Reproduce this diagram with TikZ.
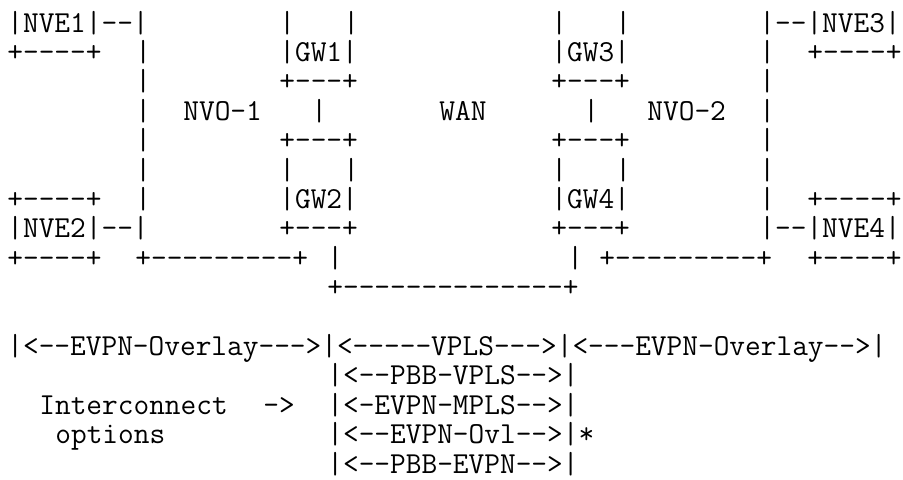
\documentclass[tikz,border=0pt]{standalone}
\usepackage{fontspec}
\usepackage{tikz}

\tikzset{
  ascii/.style={font=\ttfamily\fontsize{15.24pt}{14.7pt}\selectfont, inner sep=0pt, anchor=base west},
}

\begin{document}
\begin{tikzpicture}[x=8pt,y=-14.7pt]
\useasboundingbox (-3.5pt,16pt) rectangle (448pt,-223.5pt);

% row 0
\node[ascii] (nve1) at (0,0) {|NVE1|--|};
\node[ascii] (gwa0) at (17,0) {|};
\node[ascii] (gwb0) at (21,0) {|};
\node[ascii] (gwc0) at (34,0) {|};
\node[ascii] (gwd0) at (38,0) {|};
\node[ascii] (nve3) at (47,0) {|--|NVE3|};
% row 1
\node[ascii] (nve1b) at (0,1) {+----+};
\node[ascii] (nvoa1) at (8,1) {|};
\node[ascii] (gw1) at (17,1) {|GW1|};
\node[ascii] (gw3) at (34,1) {|GW3|};
\node[ascii] (nvob1) at (47,1) {|};
\node[ascii] (nve3b) at (50,1) {+----+};
% row 2
\node[ascii] (nvoa2) at (8,2) {|};
\node[ascii] (gw1b) at (17,2) {+---+};
\node[ascii] (gw3b) at (34,2) {+---+};
\node[ascii] (nvob2) at (47,2) {|};
% row 3
\node[ascii] (nvoa3) at (8,3) {|};
\node[ascii] (nvo1) at (11,3) {NVO-1};
\node[ascii] (link12) at (19,3) {|};
\node[ascii] (wan) at (27,3) {WAN};
\node[ascii] (link34) at (36,3) {|};
\node[ascii] (nvo2) at (40,3) {NVO-2};
\node[ascii] (nvob3) at (47,3) {|};
% row 4
\node[ascii] (nvoa4) at (8,4) {|};
\node[ascii] (gw2t) at (17,4) {+---+};
\node[ascii] (gw4t) at (34,4) {+---+};
\node[ascii] (nvob4) at (47,4) {|};
% row 5
\node[ascii] (nvoa5) at (8,5) {|};
\node[ascii] (gwa5) at (17,5) {|};
\node[ascii] (gwb5) at (21,5) {|};
\node[ascii] (gwc5) at (34,5) {|};
\node[ascii] (gwd5) at (38,5) {|};
\node[ascii] (nvob5) at (47,5) {|};
% row 6
\node[ascii] (nve2t) at (0,6) {+----+};
\node[ascii] (nvoa6) at (8,6) {|};
\node[ascii] (gw2) at (17,6) {|GW2|};
\node[ascii] (gw4) at (34,6) {|GW4|};
\node[ascii] (nvob6) at (47,6) {|};
\node[ascii] (nve4t) at (50,6) {+----+};
% row 7
\node[ascii] (nve2) at (0,7) {|NVE2|--|};
\node[ascii] (gw2b) at (17,7) {+---+};
\node[ascii] (gw4b) at (34,7) {+---+};
\node[ascii] (nve4) at (47,7) {|--|NVE4|};
% row 8
\node[ascii] (nve2b) at (0,8) {+----+};
\node[ascii] (nvo1b) at (8,8) {+---------+};
\node[ascii] (wana8) at (20,8) {|};
\node[ascii] (wanb8) at (35,8) {|};
\node[ascii] (nvo2b) at (37,8) {+---------+};
\node[ascii] (nve4b) at (50,8) {+----+};
% row 9
\node[ascii] (wanb) at (20,9) {+--------------+};

% interconnect options
\node[ascii] (scope) at (0,11) {|<--EVPN-Overlay--->|<-----VPLS--->|<---EVPN-Overlay-->|};
\node[ascii] (opt2) at (20,12) {|<--PBB-VPLS-->|};
\node[ascii] (ic) at (2,13) {Interconnect};
\node[ascii] (icarrow) at (16,13) {->};
\node[ascii] (opt3) at (20,13) {|<-EVPN-MPLS-->|};
\node[ascii] (icopt) at (3,14) {options};
\node[ascii] (opt4) at (20,14) {|<--EVPN-Ovl-->|*};
\node[ascii] (opt5) at (20,15) {|<--PBB-EVPN-->|};
\end{tikzpicture}
\end{document}
